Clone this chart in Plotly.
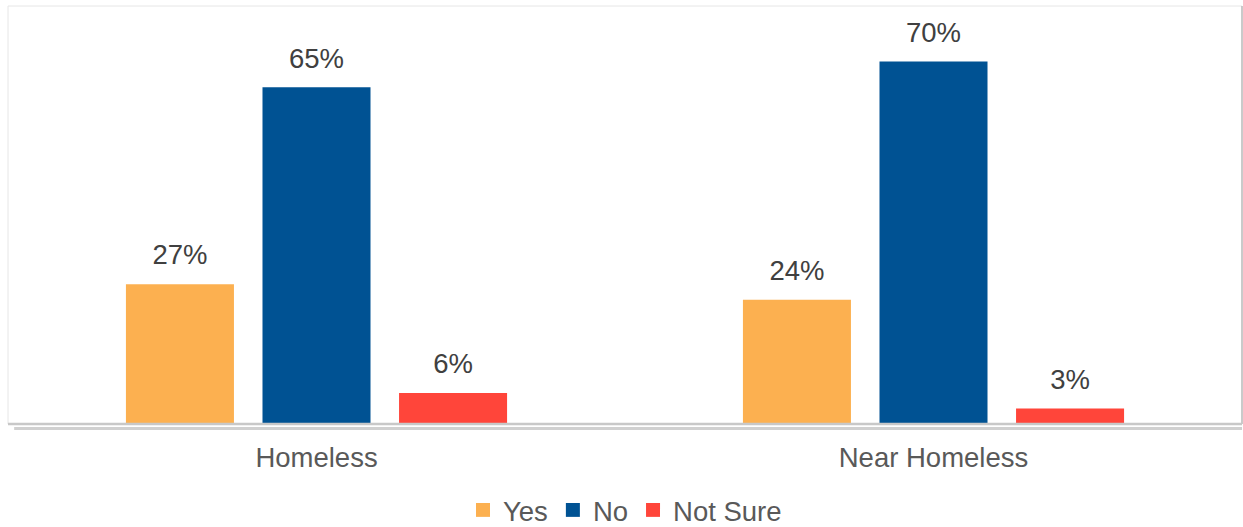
import plotly.graph_objects as go

categories = ["Homeless", "Near Homeless"]
series_names = ["Yes", "No", "Not Sure"]
yes_values = [27, 24]
no_values = [65, 70]
not_sure_values = [6, 3]
colors = ["#FCB050", "#005293", "#FF453A"]

FONT = "Liberation Sans, Arial, sans-serif"
FS = 27.5
GAP = 0.336

fig = go.Figure()
for name, vals, col in zip(series_names, [yes_values, no_values, not_sure_values], colors):
    fig.add_trace(go.Bar(
        x=categories, y=vals, name=name, marker=dict(color=col, line=dict(width=0)),
        offsetgroup=name, hoverinfo="skip", showlegend=False,
    ))
for name, vals in zip(series_names, [yes_values, no_values, not_sure_values]):
    fig.add_trace(go.Scatter(
        x=categories, y=vals, mode="markers+text", text=[f"{v}%" for v in vals],
        textposition="top center", marker=dict(size=19, opacity=0),
        textfont=dict(family=FONT, size=FS, color="#404040"),
        offsetgroup=name, showlegend=False, hoverinfo="skip", cliponaxis=False,
    ))
# legend entries (square swatches)
for name, col in zip(series_names, colors):
    fig.add_trace(go.Scatter(
        x=[None], y=[None], mode="markers", name=name,
        marker=dict(symbol="square", size=14, color=col), hoverinfo="skip",
    ))

# plot-area frame with soft shadow
fig.add_shape(type="rect", xref="paper", yref="paper", x0=0, x1=1, y0=0, y1=1,
              line=dict(color="#e6e6e6", width=1), layer="below")
fig.add_shape(type="line", xref="paper", yref="paper", x0=1, x1=1, y0=0, y1=1,
              line=dict(color="#bdbdbd", width=1.5))
fig.add_shape(type="line", xref="paper", yref="paper", x0=0, x1=1, y0=0, y1=0,
              line=dict(color="#c8c8c8", width=2.5))
fig.add_shape(type="line", xref="paper", yref="paper", x0=0.005, x1=1, y0=-0.011, y1=-0.011,
              line=dict(color="rgba(120,120,120,0.35)", width=3))

fig.update_layout(
    width=1243, height=527,
    margin=dict(l=8, r=1, t=6, b=103),
    paper_bgcolor="white", plot_bgcolor="white",
    barmode="group", bargap=GAP, bargroupgap=0.209,
    scattermode="group", scattergap=GAP,
    font=dict(family=FONT, size=FS, color="#595959"),
    xaxis=dict(showgrid=False, zeroline=False, showline=False, ticks="",
               tickfont=dict(family=FONT, size=FS, color="#595959"),
               ticklabelstandoff=14),
    yaxis=dict(range=[0, 80.7], visible=False, showgrid=False, zeroline=False),
    legend=dict(orientation="h", x=0.5, xanchor="center",
                yref="container", y=17 / 527, yanchor="middle",
                font=dict(family=FONT, size=FS, color="#595959"),
                itemwidth=30, tracegroupgap=0, traceorder="normal"),
    showlegend=True,
)

fig.write_html("out.html", config={"displayModeBar": False},
               post_script="document.body.style.margin='0';document.body.style.overflow='hidden';")
